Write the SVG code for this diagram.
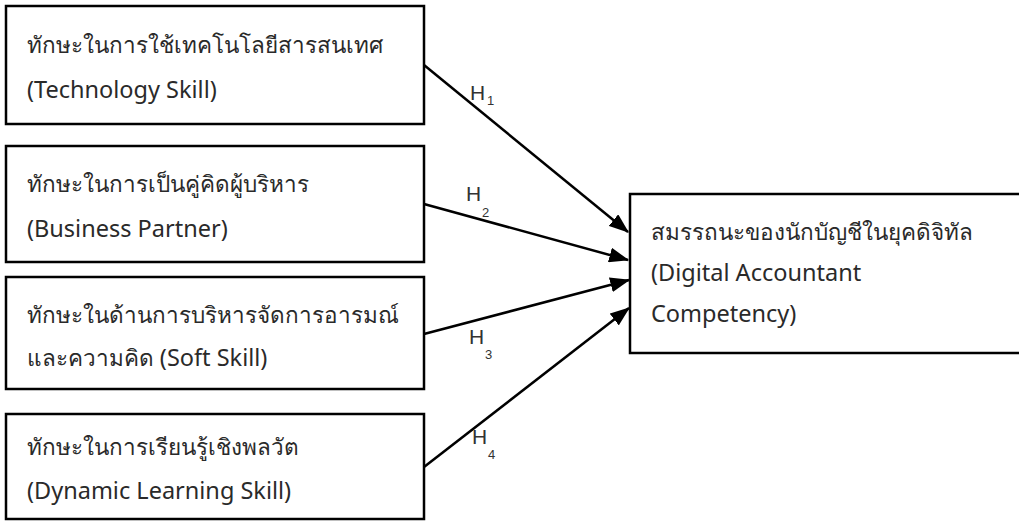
<svg xmlns="http://www.w3.org/2000/svg" width="1019" height="521" viewBox="0 0 1019 521">
<style>
.box{fill:#fff;stroke:#000;stroke-width:2.5}
.t{font-family:"Noto Sans","DejaVu Sans","Liberation Sans",sans-serif;font-size:22.5px;fill:#2a2a2a}
.e{font-size:23.5px}
.h{font-family:"Liberation Sans",sans-serif;font-size:21px;fill:#333}
.s{font-family:"Liberation Sans",sans-serif;font-size:13px;fill:#333}
.c{stroke:#000;stroke-width:2.5;fill:none;marker-end:url(#ah)}
</style>
<defs>
<marker id="ah" markerWidth="8" markerHeight="6" refX="7.5" refY="3" orient="auto" markerUnits="strokeWidth">
<path d="M0,0 L8,3 L0,6 z" fill="#000"/>
</marker>
</defs>
<rect width="1019" height="521" fill="#fff"/>
<g id="n1"><rect class="box" x="6" y="6" width="418" height="118"/>
<text class="t" x="27" y="53">ทักษะในการใช้เทคโนโลยีสารสนเทศ</text>
<text class="t e" x="27" y="98">(Technology Skill)</text></g>
<g id="n2"><rect class="box" x="6" y="146" width="418" height="116"/>
<text class="t" x="27" y="192">ทักษะในการเป็นคู่คิดผู้บริหาร</text>
<text class="t e" x="27" y="237">(Business Partner)</text></g>
<g id="n3"><rect class="box" x="6" y="277" width="418" height="112"/>
<text class="t" x="27" y="323">ทักษะในด้านการบริหารจัดการอารมณ์</text>
<text class="t" x="27" y="366">และความคิด <tspan class="e">(Soft Skill)</tspan></text></g>
<g id="n4"><rect class="box" x="6" y="414" width="418" height="105"/>
<text class="t" x="27" y="455">ทักษะในการเรียนรู้เชิงพลวัต</text>
<text class="t e" x="27" y="499">(Dynamic Learning Skill)</text></g>
<g id="n5"><rect class="box" x="630" y="194" width="400" height="159"/>
<text class="t" x="651" y="240">สมรรถนะของนักบัญชีในยุคดิจิทัล</text>
<text class="t e" x="651" y="281">(Digital Accountant</text>
<text class="t e" x="651" y="322">Competency)</text></g>
<g id="connectors">
<line class="c" x1="424" y1="65" x2="628" y2="232"/>
<line class="c" x1="424" y1="204" x2="628" y2="260"/>
<line class="c" x1="424" y1="334" x2="629" y2="280"/>
<line class="c" x1="424" y1="467" x2="629" y2="308"/>
<text class="h" x="470" y="100">H</text><text class="s" x="487" y="105">1</text>
<text class="h" x="466" y="201">H</text><text class="s" x="482" y="217">2</text>
<text class="h" x="469" y="344">H</text><text class="s" x="485" y="359">3</text>
<text class="h" x="472" y="444">H</text><text class="s" x="488" y="459">4</text>
</g>
</svg>
